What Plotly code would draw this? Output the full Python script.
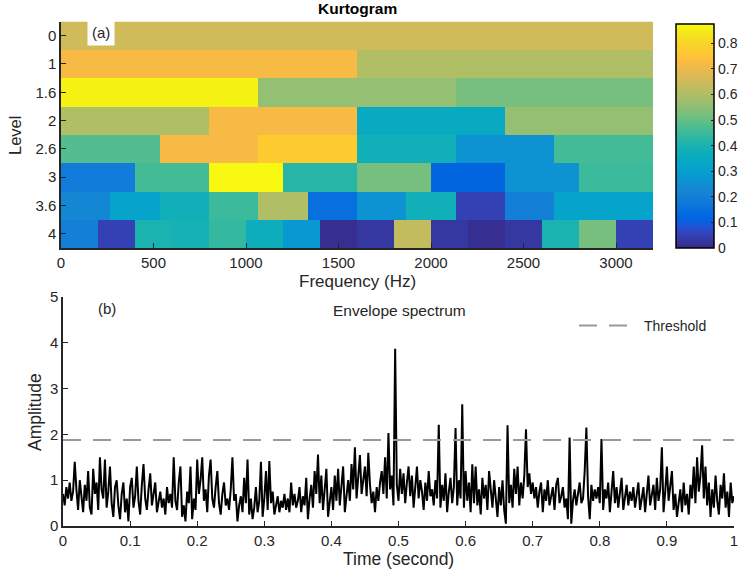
import numpy as np
import plotly.graph_objects as go

# ---------------- data ----------------
level_labels = ["0", "1", "1.6", "2", "2.6", "3", "3.6", "4"]
freq_max = 3200
k_l0 = [0.65]
k_l1 = [0.72, 0.60]
k_l16 = [0.86, 0.56, 0.52]
k_l2 = [0.60, 0.72, 0.35, 0.56]
k_l26 = [0.48, 0.72, 0.77, 0.38, 0.26, 0.46]
k_l3 = [0.19, 0.46, 0.87, 0.42, 0.52, 0.12, 0.26, 0.45]
k_l36 = [0.23, 0.32, 0.38, 0.45, 0.60, 0.15, 0.26, 0.38, 0.05, 0.20, 0.32, 0.32]
k_l4 = [0.20, 0.05, 0.40, 0.39, 0.44, 0.37, 0.28, 0.01, 0.03, 0.63, 0.03, 0.01, 0.03, 0.40, 0.52, 0.05]
kurt_rows = [k_l0, k_l1, k_l16, k_l2, k_l26, k_l3, k_l36, k_l4]
cbar_ticks = [0, 0.1, 0.2, 0.3, 0.4, 0.5, 0.6, 0.7, 0.8]

threshold = 1.88
env_amp = [
    0.70,0.45,0.85,0.60,0.95,0.55,0.75,1.40,0.80,0.35,1.00,0.65,0.30,0.90,0.55,1.20,0.40,0.25,1.25,0.70,
    0.95,0.35,1.50,0.80,0.60,1.45,0.40,0.75,1.30,0.50,0.20,0.85,1.00,0.45,0.15,0.70,0.95,0.30,0.60,0.10,
    0.85,1.05,0.40,0.65,1.30,0.55,0.25,0.90,1.35,0.60,0.35,0.80,1.15,0.45,0.70,0.95,0.30,0.55,0.75,0.40,
    0.60,0.25,0.85,0.50,0.70,0.40,1.50,0.55,0.35,0.95,1.30,0.20,0.45,0.10,0.75,0.50,1.30,0.15,0.60,0.35,
    1.45,0.70,1.00,1.50,0.55,0.80,0.30,1.10,1.45,0.60,0.40,0.85,1.20,0.50,0.25,0.70,0.95,0.45,0.60,0.35,
    0.80,1.50,0.55,0.70,0.10,0.45,0.65,0.30,1.05,0.50,1.45,0.25,0.60,0.15,0.40,0.85,0.30,0.55,1.40,0.20,
    0.60,1.20,0.35,1.42,0.50,0.75,0.25,0.45,0.65,0.30,0.55,0.40,0.70,0.35,0.60,0.30,0.95,0.45,0.70,0.40,
    0.55,0.85,0.30,0.65,0.45,1.05,0.15,0.60,0.90,0.40,1.20,0.70,1.56,0.50,1.10,0.35,0.80,1.25,0.20,0.60,
    0.85,0.35,1.10,0.55,1.25,0.45,0.90,1.30,0.30,0.75,1.00,0.55,1.35,0.80,1.72,0.60,1.10,1.55,0.70,0.95,
    1.30,0.65,1.60,0.90,0.50,0.75,0.30,0.85,0.55,0.95,1.20,0.70,1.50,0.60,2.03,0.80,1.10,0.45,3.87,0.90,
    0.55,1.25,0.70,1.15,0.50,0.95,1.30,0.65,1.10,0.40,0.85,1.30,0.60,1.00,0.75,0.35,0.95,0.55,1.20,0.65,
    0.80,0.45,1.00,0.60,2.21,0.40,0.90,0.55,1.15,0.30,0.75,1.05,0.50,0.85,2.14,0.45,1.00,0.60,2.66,0.40,
    1.20,0.55,0.95,0.30,1.35,0.50,1.30,0.45,0.80,0.25,1.05,0.60,0.90,0.35,1.20,0.70,0.40,1.00,0.55,0.20,
    0.85,0.45,1.00,0.35,0.05,2.20,0.50,0.90,0.40,1.25,0.70,1.30,0.45,0.95,0.60,1.10,2.11,0.85,1.15,0.70,
    0.95,0.60,0.85,0.40,0.75,0.95,0.30,0.80,0.55,1.00,0.45,0.70,0.85,0.35,0.90,1.05,0.50,0.65,0.85,0.40,
    0.60,0.15,1.93,0.05,0.55,0.80,0.45,0.70,0.95,0.50,0.60,1.20,2.15,0.65,0.15,0.90,0.55,0.80,0.60,0.85,
    0.50,1.90,0.35,0.80,0.60,0.95,0.30,0.75,1.20,0.50,0.85,0.40,0.70,1.05,0.35,0.60,0.90,0.45,0.75,0.55,
    0.85,0.40,0.70,0.95,0.35,0.60,0.85,0.30,0.70,1.10,0.45,0.65,0.90,0.35,1.05,0.55,0.80,1.72,0.30,0.75,
    1.30,0.55,0.90,1.20,0.35,0.70,0.20,0.55,0.80,0.30,0.95,0.45,0.70,0.25,0.90,0.60,1.30,0.50,1.50,0.75,
    1.10,1.76,0.60,1.30,0.45,0.95,0.20,0.80,0.40,1.10,0.55,0.25,0.90,0.60,1.15,0.40,0.75,0.20,0.95,0.50,
    0.65,
]
time_ticks = [0, 0.1, 0.2, 0.3, 0.4, 0.5, 0.6, 0.7, 0.8, 0.9, 1]

# ---------------- parula colormap ----------------
parula = [
    [0.2081,0.1663,0.5292],[0.2116,0.1898,0.5777],[0.2123,0.2138,0.6270],[0.2081,0.2386,0.6771],
    [0.1959,0.2645,0.7279],[0.1707,0.2919,0.7792],[0.1253,0.3242,0.8303],[0.0591,0.3598,0.8683],
    [0.0117,0.3875,0.8820],[0.0060,0.4086,0.8828],[0.0165,0.4266,0.8786],[0.0329,0.4430,0.8720],
    [0.0498,0.4586,0.8641],[0.0629,0.4737,0.8554],[0.0723,0.4887,0.8467],[0.0779,0.5040,0.8384],
    [0.0793,0.5200,0.8312],[0.0749,0.5375,0.8263],[0.0641,0.5570,0.8240],[0.0488,0.5772,0.8228],
    [0.0343,0.5966,0.8199],[0.0265,0.6137,0.8135],[0.0239,0.6287,0.8038],[0.0231,0.6418,0.7913],
    [0.0228,0.6535,0.7768],[0.0267,0.6642,0.7607],[0.0384,0.6743,0.7436],[0.0590,0.6838,0.7254],
    [0.0843,0.6928,0.7062],[0.1133,0.7015,0.6859],[0.1453,0.7098,0.6646],[0.1801,0.7177,0.6424],
    [0.2178,0.7250,0.6193],[0.2586,0.7317,0.5954],[0.3022,0.7376,0.5712],[0.3482,0.7424,0.5473],
    [0.3953,0.7459,0.5244],[0.4420,0.7481,0.5033],[0.4871,0.7491,0.4840],[0.5300,0.7491,0.4661],
    [0.5709,0.7485,0.4494],[0.6099,0.7473,0.4337],[0.6473,0.7456,0.4188],[0.6834,0.7435,0.4044],
    [0.7184,0.7411,0.3905],[0.7525,0.7384,0.3768],[0.7858,0.7356,0.3633],[0.8185,0.7327,0.3498],
    [0.8507,0.7299,0.3360],[0.8824,0.7274,0.3217],[0.9139,0.7258,0.3063],[0.9450,0.7261,0.2886],
    [0.9739,0.7314,0.2666],[0.9938,0.7455,0.2403],[0.9990,0.7653,0.2164],[0.9955,0.7861,0.1967],
    [0.9880,0.8066,0.1794],[0.9789,0.8271,0.1633],[0.9697,0.8481,0.1475],[0.9626,0.8705,0.1309],
    [0.9589,0.8949,0.1132],[0.9598,0.9218,0.0948],[0.9661,0.9514,0.0755],[0.9763,0.9831,0.0538],
]
colorscale = [[i / (len(parula) - 1), "rgb(%d,%d,%d)" % tuple(int(round(c * 255)) for c in rgb)]
              for i, rgb in enumerate(parula)]

# ---------------- build grid ----------------
ncol = 48
z = [[row[int(j * len(row) / ncol)] for j in range(ncol)] for row in kurt_rows]
x_edges = np.linspace(0, freq_max, ncol + 1)
y_edges = np.arange(len(kurt_rows) + 1) - 0.5

t = np.linspace(0, 1, len(env_amp))

FONT = "Liberation Sans, Arial, Helvetica, sans-serif"
AX = "#262626"
W, H = 743, 571

fig = go.Figure()
fig.add_trace(go.Heatmap(
    z=z, x=x_edges, y=y_edges, colorscale=colorscale, zmin=0, zmax=0.875,
    xaxis="x", yaxis="y",
    colorbar=dict(
        x=676 / W, xanchor="left", y=1 - 136 / H, yanchor="middle",
        len=224 / H, lenmode="fraction", thickness=38, thicknessmode="pixels",
        outlinecolor="#000000", outlinewidth=1.5,
        tickvals=cbar_ticks, ticktext=[str(v) for v in cbar_ticks],
        ticks="inside", ticklen=3, tickcolor=AX,
        tickfont=dict(family=FONT, size=14, color=AX), xpad=0, ypad=0,
    ),
    showscale=True,
))
fig.add_trace(go.Scatter(
    x=t, y=env_amp, mode="lines", line=dict(color="black", width=2),
    xaxis="x2", yaxis="y2", showlegend=False,
))
fig.add_trace(go.Scatter(
    x=[0, 1], y=[threshold, threshold], mode="lines",
    line=dict(color="#999999", width=2, dash="18px,12px"),
    xaxis="x2", yaxis="y2", name="Threshold", showlegend=True,
))

axis_common = dict(showgrid=False, zeroline=False, showline=True, linecolor=AX, linewidth=1.5,
                   ticks="inside", ticklen=5, tickcolor=AX, mirror=False,
                   tickfont=dict(family=FONT, size=15, color=AX))

fig.update_layout(
    width=W, height=H, margin=dict(l=0, r=0, t=0, b=0, autoexpand=False),
    paper_bgcolor="white", plot_bgcolor="white",
    font=dict(family=FONT, color=AX),
    xaxis=dict(domain=[61 / W, 653 / W], anchor="y", range=[0, freq_max],
               tickvals=[0, 500, 1000, 1500, 2000, 2500, 3000], **axis_common),
    yaxis=dict(domain=[1 - 248 / H, 1 - 21.5 / H], anchor="x", range=[7.5, -0.5],
               tickvals=list(range(len(level_labels))), ticktext=level_labels, **axis_common),
    xaxis2=dict(domain=[63 / W, 734 / W], anchor="y2", range=[0, 1],
                tickvals=time_ticks, ticktext=[("%g" % v) for v in time_ticks], **axis_common),
    yaxis2=dict(domain=[1 - 526 / H, 1 - 297 / H], anchor="x2", range=[0, 5],
                tickvals=[0, 1, 2, 3, 4, 5], **axis_common),
    legend=dict(x=574 / W, y=1 - 326 / H, xanchor="left", yanchor="middle",
                bgcolor="rgba(0,0,0,0)", font=dict(family=FONT, size=14, color=AX),
                itemwidth=60),
    showlegend=True,
)

ann = [
    dict(text="<b>Kurtogram</b>", x=357 / W, y=1 - 8 / H, font=dict(size=15.5, color="black")),
    dict(text="Level", x=15 / W, y=1 - 135 / H, textangle=-90, font=dict(size=16.5, color=AX)),
    dict(text="Frequency (Hz)", x=357 / W, y=1 - 281 / H, font=dict(size=17, color=AX)),
    dict(text="(a)", x=101 / W, y=1 - 33 / H, font=dict(size=15, color=AX),
         bgcolor="white", borderpad=4),
    dict(text="(b)", x=107 / W, y=1 - 308 / H, font=dict(size=15, color=AX)),
    dict(text="Envelope spectrum", x=399 / W, y=1 - 310 / H, font=dict(size=15.5, color=AX)),
    dict(text="Amplitude", x=35 / W, y=1 - 412 / H, textangle=-90, font=dict(size=17.5, color=AX)),
    dict(text="Time (second)", x=398 / W, y=1 - 559 / H, font=dict(size=17.5, color=AX)),
]
fig.update_layout(annotations=[dict(xref="paper", yref="paper", showarrow=False,
                                    xanchor="center", yanchor="middle", **a) for a in ann])

fig.write_html("out.html", config={"displayModeBar": False},
               post_script="document.body.style.margin='0';document.body.style.overflow='hidden';")
